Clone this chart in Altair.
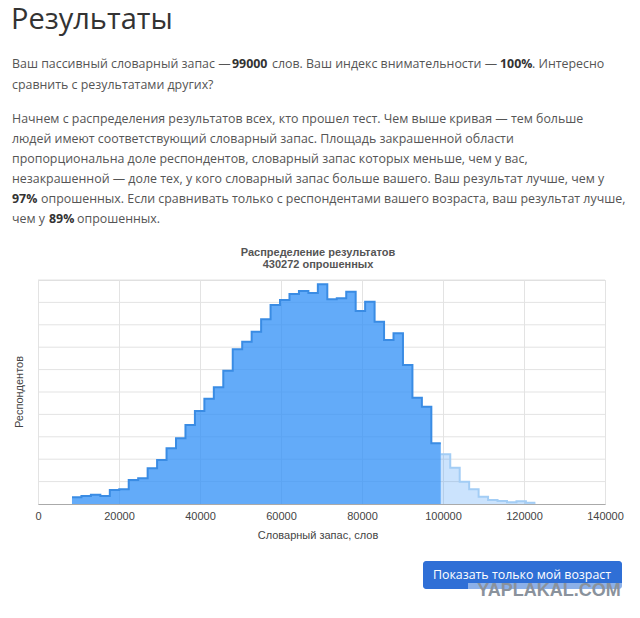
import altair as alt
import pandas as pd

# ---------------- data ----------------
bin_edges = [8390, 10725, 13060, 15395, 17730, 20065, 22400, 24735, 27070, 29405,
             31740, 34075, 36410, 38745, 41080, 43415, 45750, 48085, 50420, 52755,
             55090, 57425, 59760, 62095, 64430, 66765, 69100, 71435, 73770, 76105,
             78440, 80775, 83110, 85445, 87780, 90115, 92450, 94785, 97120, 99455,
             101790, 104125, 106460, 108795, 111130, 113465, 115800, 118135, 120470, 122805]
respondents = [600, 710, 830, 710, 1250, 1310, 2140, 2290, 3190, 3930,
               4970, 5870, 7050, 8300, 9390, 10420, 11900, 13810, 14490, 15380,
               16490, 17770, 18210, 18750, 19020, 18840, 19620, 18280, 18370, 18960,
               17230, 18060, 16280, 14640, 15240, 12410, 9490, 8690, 5420, 4440,
               3240, 1990, 1310, 650, 360, 270, 150, 240, 120]
user_score = 99000
total_respondents = 430272
x_ticks = [0, 20000, 40000, 60000, 80000, 100000, 120000, 140000]
y_grid = [0, 2000, 4000, 6000, 8000, 10000, 12000, 14000, 16000, 18000, 20000]

page_title = "Результаты"
chart_title = ["Распределение результатов", f"{total_respondents} опрошенных"]
x_title = "Словарный запас, слов"
y_title = "Респондентов"
button_label = "Показать только мой возраст"
watermark = "YAPLAKAL.COM"

# text segments: (text, bold)
para_lines = [
    [("Ваш пассивный словарный запас —", False), ("99000", True),
     ("слов. Ваш индекс внимательности —", False), ("100%", True), (". Интересно", False)],
    [("сравнить с результатами других?", False)],
    [("Начнем с распределения результатов всех, кто прошел тест. Чем выше кривая — тем больше", False)],
    [("людей имеют соответствующий словарный запас. Площадь закрашенной области", False)],
    [("пропорциональна доле респондентов, словарный запас которых меньше, чем у вас,", False)],
    [("незакрашенной — доле тех, у кого словарный запас больше вашего. Ваш результат лучше, чем у", False)],
    [("97%", True), ("опрошенных. Если сравнивать только с респондентами вашего возраста, ваш результат лучше,", False)],
    [("чем у", False), ("89%", True), ("опрошенных.", False)],
]

# ---------------- layout (page pixels) ----------------
OX, OY = 38, 280          # plot origin on the page
PW, PH = 567, 224
seg_x = [[12, 232, 272, 500, 532], [12], [12], [12], [12], [12], [12, 41], [12, 49, 77]]
line_y = [64, 85, 119, 139, 159, 179, 199, 219]

BODY = "Open Sans"
BODY_SIZE = 12.4
CHART_FONT = "Liberation Sans"
GRID = "#e3e3e3"

# ---------------- histogram series ----------------
rows = []
below_idx = [i for i in range(len(respondents)) if bin_edges[i] < user_score]
above_idx = [i for i in range(len(respondents)) if bin_edges[i] >= user_score]
for grp, idx in (("below", below_idx), ("above", above_idx)):
    for i in idx:
        rows.append({"x": bin_edges[i], "n": respondents[i], "g": grp})
    last = idx[-1]
    rows.append({"x": bin_edges[last + 1], "n": respondents[last], "g": grp})
df = pd.DataFrame(rows)

xs = alt.Scale(domain=[0, 140000], nice=False)
ys = alt.Scale(domain=[0, 20000], nice=False)

base = alt.Chart(df)
xenc = alt.X("x:Q", scale=xs,
             axis=alt.Axis(values=x_ticks, format="d", title=None, ticks=False,
                           labelFont=CHART_FONT, labelFontSize=11, labelColor="#444",
                           labelPadding=6, domainColor="#aaaaaa", gridColor=GRID,
                           labelFlush=False, labelOverlap=False))
yenc = alt.Y("n:Q", scale=ys, axis=None)

# horizontal gridlines (drawn from the y scale)
hgrid = alt.Chart(pd.DataFrame({"v": y_grid[1:]})).mark_rule(color=GRID, strokeWidth=1).encode(
    y=alt.Y("v:Q", scale=ys, axis=None))

below = base.transform_filter(alt.datum.g == "below")
above = base.transform_filter(alt.datum.g == "above")
area_above = above.mark_area(interpolate="step-after", color="#2f8ff7",
                             fillOpacity=0.25).encode(x=xenc, y=yenc)
line_above = above.mark_line(interpolate="step-after", color="#a3cdf5",
                             strokeWidth=2).encode(x=xenc, y=yenc)
area_below = below.mark_area(interpolate="step-after", color="#2f8ff7",
                             fillOpacity=0.75).encode(x=xenc, y=yenc)
line_below = below.mark_line(interpolate="step-after", color="#3a8ce4",
                             strokeWidth=2).encode(x=xenc, y=yenc)

one = alt.Data(values=[{}])


def txt(s, px, py, size=BODY_SIZE, weight="normal", color="#555", font=BODY, align="left",
        angle=0, baseline="middle"):
    return alt.Chart(one).mark_text(align=align, baseline=baseline, font=font, fontSize=size,
                                    fontWeight=weight, color=color, angle=angle).encode(
        x=alt.value(px - OX), y=alt.value(py - OY), text=alt.value(s))


layers = [hgrid, area_above, line_above, area_below, line_below]

layers.append(txt(page_title, 11, 29, size=29, color="#333", baseline="alphabetic"))
for li, segs in enumerate(para_lines):
    for si, (s, bold) in enumerate(segs):
        layers.append(txt(s, seg_x[li][si], line_y[li],
                          weight="bold" if bold else "normal",
                          color="#333" if bold else "#555"))

layers.append(txt(chart_title[0], 318, 253, size=11, weight="bold", color="#555",
                  font=CHART_FONT, align="center"))
layers.append(txt(chart_title[1], 318, 265, size=11, weight="bold", color="#555",
                  font=CHART_FONT, align="center"))
layers.append(txt(x_title, 318, 536, size=11, color="#444", font=CHART_FONT, align="center"))
layers.append(txt(y_title, 20, 392, size=11, color="#444", font=CHART_FONT, align="center",
                  angle=270))

# button
layers.append(alt.Chart(one).mark_rect(color="#2f6fd6", cornerRadius=3).encode(
    x=alt.value(423 - OX), x2=alt.value(622 - OX), y=alt.value(561 - OY), y2=alt.value(589 - OY)))
layers.append(txt(button_label, 522, 575, size=12.4, color="#ffffff", align="center"))
# watermark
layers.append(alt.Chart(one).mark_rect(color="#ffffff", opacity=0.45).encode(
    x=alt.value(468 - OX), x2=alt.value(632 - OX), y=alt.value(583 - OY), y2=alt.value(598 - OY)))
layers.append(txt(watermark, 549, 591, size=18, weight="bold", color="#8a929c",
                  font=CHART_FONT, align="center"))

chart = alt.layer(*layers).properties(
    width=PW, height=PH,
    autosize=alt.AutoSizeParams(type="none"),
    padding={"left": OX - 8, "top": OY - 8, "right": 632 - (OX + PW), "bottom": 610 - (OY + PH)},
).configure_view(stroke=None).configure(background="#ffffff")

chart.save("out.html", embed_options={"renderer": "svg", "actions": False})
